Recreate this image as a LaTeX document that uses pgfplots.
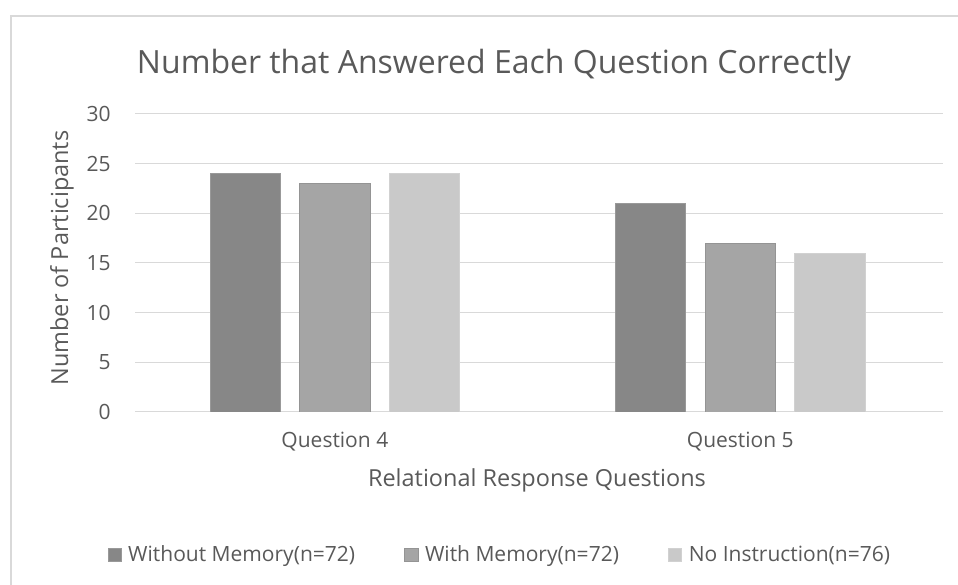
\documentclass[border=0pt]{standalone}
\usepackage{fontspec}
\setmainfont{Open Sans}
\usepackage{pgfplots}
\pgfplotsset{compat=1.18}
\usepackage{pgfplotstable}
\definecolor{txt}{HTML}{595959}
\definecolor{gridc}{HTML}{D9D9D9}
\definecolor{cA}{HTML}{878787}
\definecolor{cB}{HTML}{A5A5A5}
\definecolor{cC}{HTML}{C9C9C9}
\pgfplotstableread{
x without with noinstr
0 24 23 24
1 21 17 16
}\data
\begin{document}
\begin{tikzpicture}[x=0.75pt,y=0.75pt]
\useasboundingbox (0,0) rectangle (958,585);
\draw[color=gridc, line width=1.5pt] (11,0) -- (11,569) -- (958,569);
\begin{axis}[
  at={(101.25pt,129.75pt)}, anchor=south west, scale only axis,
  width=606pt, height=223.5pt,
  xmin=-0.493, xmax=1.5, ymin=0, ymax=30,
  ytick={0,5,...,30}, xtick={0,1}, xticklabels={Question 4, Question 5},
  ymajorgrids, grid style={color=gridc, line width=0.75pt},
  axis line style={draw=none}, major tick length=0pt, tick style={draw=none},
  ticklabel style={font=\fontsize{15.75}{18}\selectfont, text=txt},
  /pgf/number format/assume math mode=true,
  yticklabel style={anchor=east, inner sep=0pt, xshift=-18pt},
  xticklabel style={anchor=base, inner sep=0pt, yshift=-27pt},
  ybar, bar width=0.173,
  legend columns=3,
  legend style={draw=none, fill=none, font=\fontsize{15.75}{18}\selectfont, text=txt,
    at={(0.452,-0.478)}, anchor=center,
    /tikz/every even column/.append style={column sep=35pt},
    /tikz/every odd column/.append style={column sep=3pt}},
  legend image code/.code={\fill[#1] (0pt,-4.9pt) rectangle (9.8pt,4.9pt);},
]
\addplot[fill=cA, draw=cA!85!white, line width=0.6pt, bar shift=-0.221] table[x=x, y=without] {\data};
\addplot[fill=cB, draw=cB!90!black, line width=0.6pt, bar shift=0] table[x=x, y=with] {\data};
\addplot[fill=cC, draw=cC!85!white, line width=0.6pt, bar shift=0.221] table[x=x, y=noinstr] {\data};
\legend{Without Memory(n=72), With Memory(n=72), No Instruction(n=76)}
\end{axis}
\node[font=\fontsize{24}{28}\selectfont, text=txt, anchor=base] at (494,511) {Number that Answered Each Question Correctly};
\node[font=\fontsize{17.6}{20}\selectfont, text=txt, anchor=base] at (537,98) {Relational Response Questions};
\node[font=\fontsize{17.6}{20}\selectfont, text=txt, rotate=90] at (62,327) {Number of Participants};
\end{tikzpicture}
\end{document}
